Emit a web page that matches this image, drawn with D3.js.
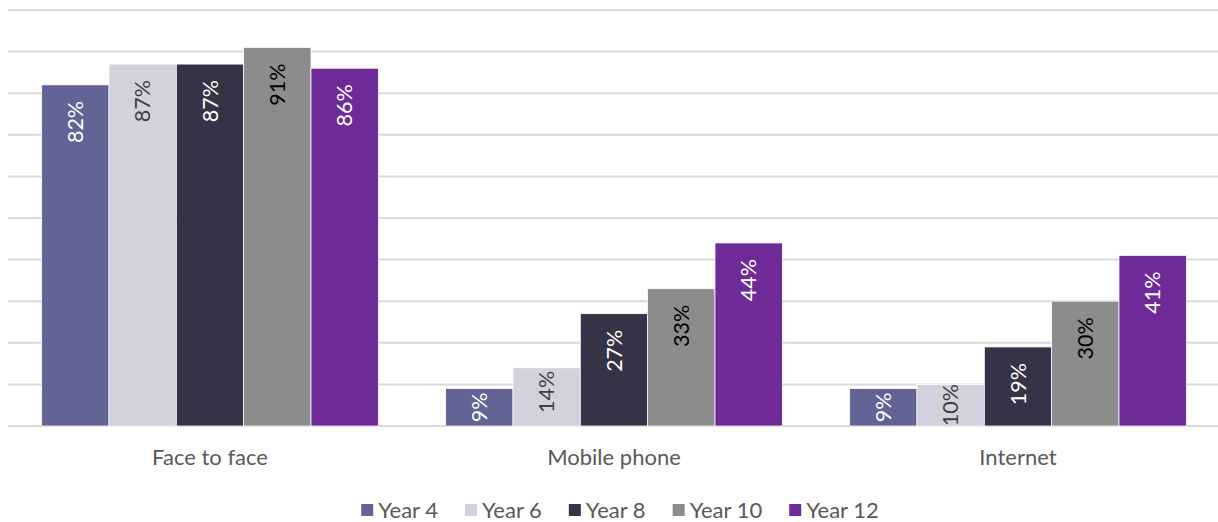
<!DOCTYPE html>
<html>
<head>
<meta charset="utf-8">
<script src="https://cdn.jsdelivr.net/npm/d3@7"></script>
<style>
  body { margin: 0; background: #fff; }
  svg { display: block; font-family: Lato, "Open Sans", sans-serif; }
</style>
</head>
<body>
<svg id="chart" width="1218" height="522"></svg>
<script>
const categories = ["Face to face", "Mobile phone", "Internet"];
const seriesNames = ["Year 4", "Year 6", "Year 8", "Year 10", "Year 12"];
const year4 = [82, 9, 9];
const year6 = [87, 14, 10];
const year8 = [87, 27, 19];
const year10 = [91, 33, 30];
const year12 = [86, 44, 41];
const yTicks = [0, 10, 20, 30, 40, 50, 60, 70, 80, 90, 100];

const seriesValues = [year4, year6, year8, year10, year12];
const colors = ["#636496", "#d3d1de", "#373346", "#8c8c8c", "#6e2b98"];
const labelColors = ["#ffffff", "#404040", "#ffffff", "#000000", "#ffffff"];

const svg = d3.select("#chart");
const W = 1218;

const y = d3.scaleLinear().domain([0, 100]).range([426, 10]);
const x0 = d3.scaleBand().domain(categories).range([8, 1220]).paddingInner(0).paddingOuter(0);
const x1 = d3.scaleBand().domain(seriesNames).range([0, x0.bandwidth()]).paddingInner(0).paddingOuter(0.5);
const color = d3.scaleOrdinal().domain(seriesNames).range(colors);
const labelColor = d3.scaleOrdinal().domain(seriesNames).range(labelColors);

// gridlines
svg.append("g").selectAll("line").data(yTicks).join("line")
  .attr("x1", 8).attr("x2", W)
  .attr("y1", d => y(d)).attr("y2", d => y(d))
  .attr("stroke", "#d9d9d9").attr("stroke-width", 2);

const data = [];
categories.forEach((c, i) => {
  seriesNames.forEach((s, j) => {
    data.push({ cat: c, series: s, value: seriesValues[j][i] });
  });
});

svg.append("g").selectAll("rect").data(data).join("rect")
  .attr("x", d => x0(d.cat) + x1(d.series))
  .attr("y", d => y(d.value))
  .attr("width", x1.bandwidth())
  .attr("height", d => y(0) - y(d.value))
  .attr("fill", d => color(d.series))
  .attr("stroke", "#ffffff").attr("stroke-width", 0.75);

// value labels
const labels = svg.append("g").selectAll("text").data(data).join("text")
  .text(d => d.value + "%")
  .attr("font-size", 21.5)
  .attr("fill", d => labelColor(d.series))
  .attr("text-anchor", "start");

labels.each(function(d) {
  const len = this.getComputedTextLength();
  const top = y(d.value);
  const h = y(0) - top;
  let gap;
  if (h >= len + 32) gap = 16;
  else if (h >= len + 12) gap = 3;
  else gap = (h - len) / 2;
  const cx = x0(d.cat) + x1(d.series) + x1.bandwidth() / 2;
  const startY = top + gap + len;
  d3.select(this)
    .attr("transform", `translate(${cx},${startY}) rotate(-90)`)
    .attr("dy", "0.35em");
});

// category axis labels
svg.append("g").selectAll("text").data(categories).join("text")
  .attr("x", d => x0(d) + x0.bandwidth() / 2)
  .attr("y", 465)
  .attr("text-anchor", "middle")
  .attr("font-size", 22)
  .attr("fill", "#595959")
  .text(d => d);

// legend
const legend = svg.append("g");
const items = legend.selectAll("g").data(seriesNames).join("g");
items.append("rect").attr("width", 12).attr("height", 12).attr("y", 504)
  .attr("fill", d => color(d));
items.append("text").attr("y", 518).attr("font-size", 22).attr("fill", "#595959").text(d => d);
const widths = [];
items.select("text").each(function() { widths.push(this.getComputedTextLength()); });
const itemW = widths.map(w => 12 + 5 + w);
const gapL = 27;
const total = d3.sum(itemW) + gapL * (itemW.length - 1);
let xx = 620 - total / 2;
items.each(function(d, i) {
  d3.select(this).select("rect").attr("x", xx);
  d3.select(this).select("text").attr("x", xx + 17);
  xx += itemW[i] + gapL;
});
</script>
</body>
</html>
